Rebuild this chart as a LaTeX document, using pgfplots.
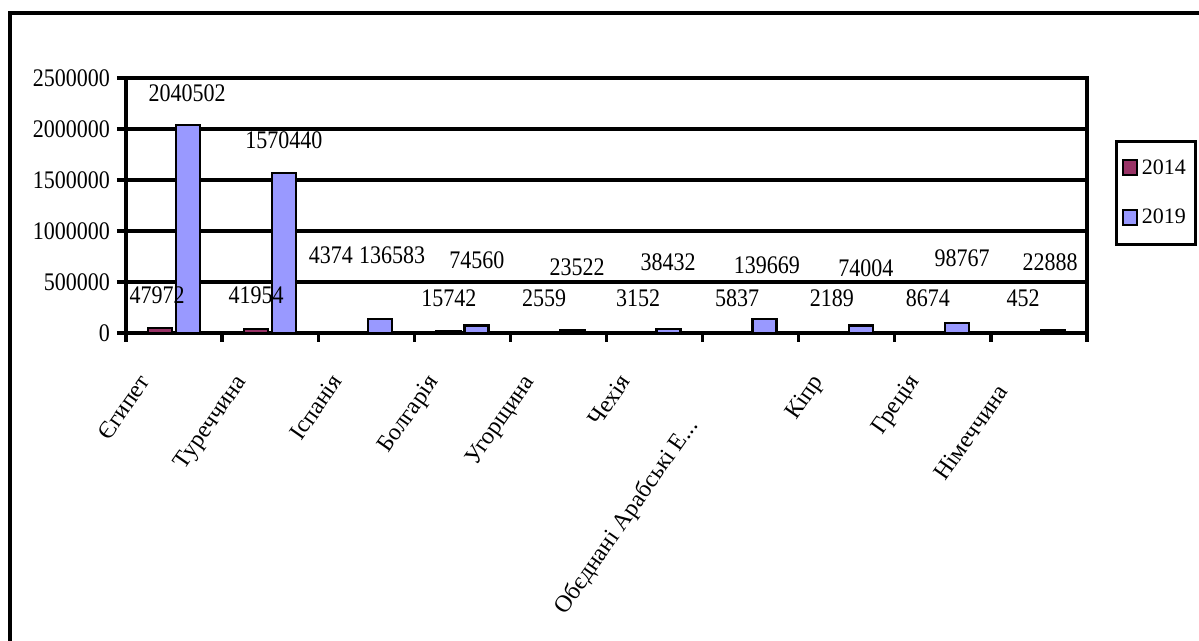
\documentclass[border=0pt]{standalone}
\usepackage{fontspec}
\setmainfont{Liberation Serif}
\usepackage{pgfplots}
\pgfplotsset{compat=1.18}
\definecolor{c14}{HTML}{993366}
\definecolor{c19}{HTML}{9999FF}
\newcommand\f{\fontsize{11}{13}\selectfont}
\pgfplotsset{sq legend/.style={legend image code/.code={\draw[#1,line width=0.8pt] (0pt,-3.5pt) rectangle (7pt,4pt);}}}
\begin{document}
\begin{tikzpicture}
\useasboundingbox (-63pt,-154pt) rectangle (536.5pt,166.5pt);
\draw[line width=2pt] (-58pt,-154pt) -- (-58pt,160pt) -- (536.5pt,160pt);
\begin{axis}[
  at={(0pt,0pt)}, anchor=south west,
  width=480.5pt, height=127.5pt, scale only axis,
  xmin=-0.5, xmax=9.5, ymin=0, ymax=2500000,
  xtick={-0.5,0.5,1.5,2.5,3.5,4.5,5.5,6.5,7.5,8.5,9.5},
  x tick label as interval,
  xticklabels={{\hspace*{2pt}Єгипет},{\hspace*{8pt}Туреччина},Іспанія,Болгарія,{\hspace*{4pt}Угорщина},Чехія,{Обєднані Арабські Е.{}.{}.\hspace*{26pt}},Кіпр,Греція,{Німеччина\hspace*{6pt}}},
  ytick={0,500000,1000000,1500000,2000000,2500000},
  yticklabels={0,500000,1000000,1500000,2000000,2500000},
  scaled y ticks=false,
  tick pos=left, tick align=outside, major tick length=4.5pt,
  tick style={black,line width=1.6pt},
  axis line style={line width=1.6pt},
  ymajorgrids, major grid style={black,line width=1.6pt},
  ticklabel style={font=\f},
  yticklabel style={yscale=1.15},
  xticklabel style={font=\fontsize{12}{14}\selectfont,xshift=-19pt,yshift=-10.5pt,rotate=55,anchor=north east},
  legend style={at={(1.029,0.757)}, anchor=north west, draw=black, line width=1.5pt,
    font=\f, inner xsep=3pt, inner ysep=7pt, row sep=12pt},
  legend cell align=left,
]
\addplot[ybar, bar width=12pt, bar shift=-7pt, fill=c14, draw=black, line width=1.2pt, sq legend]
  coordinates {(0,47972) (1,41954) (2,4374) (3,15742) (4,2559) (5,3152) (6,5837) (7,2189) (8,8674) (9,452)};
\addlegendentry{2014}
\addplot[ybar, bar width=12pt, bar shift=7pt, fill=c19, draw=black, line width=1.2pt, sq legend]
  coordinates {(0,2040502) (1,1570440) (2,136583) (3,74560) (4,23522) (5,38432) (6,139669) (7,74004) (8,98767) (9,22888)};
\addlegendentry{2019}
% data labels, placed as in the original
\addplot[forget plot, draw=none, mark=none, nodes near coords, point meta=explicit symbolic,
  every node near coord/.append style={anchor=center, font=\f, yscale=1.15}]
  table[x=x, y=y, meta=t] {
x y t
-0.177 372500 47972
0.853 372500 41954
1.633 765000 4374
2.861 343000 15742
3.850 343000 2559
4.828 343000 3152
5.858 343000 5837
6.846 343000 2189
7.845 343000 8674
8.834 343000 452
};
\addplot[forget plot, draw=none, mark=none, nodes near coords, point meta=explicit symbolic,
  every node near coord/.append style={anchor=center, font=\f, yscale=1.15}]
  table[x=x, y=y, meta=t] {
x y t
0.135 2353000 2040502
1.144 1892000 1570440
2.268 765000 136583
3.152 716000 74560
4.193 647000 23522
5.140 696000 38432
6.170 667000 139669
7.200 637000 74004
8.200 735000 98767
9.115 696000 22888
};
\end{axis}
\end{tikzpicture}
\end{document}
